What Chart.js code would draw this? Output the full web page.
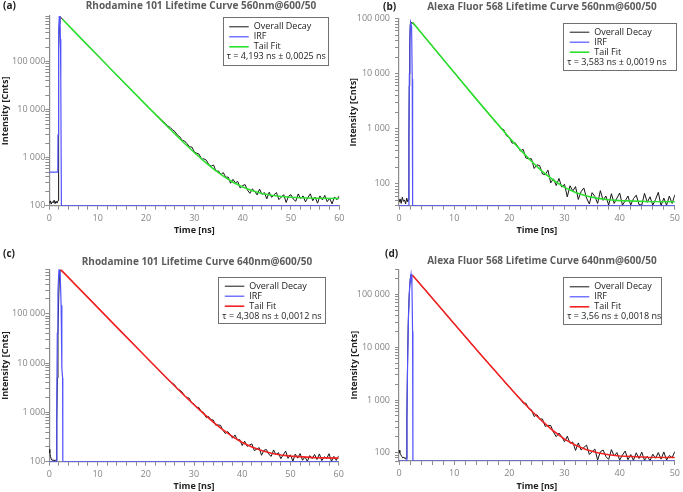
<!DOCTYPE html>
<html>
<head>
<meta charset="utf-8">
<script src="https://cdn.jsdelivr.net/npm/chart.js@4.4.1/dist/chart.umd.min.js"></script>
<style>
body { margin: 0; background: #fff; width: 683px; height: 492px; overflow: hidden; position: relative; font-family: 'Open Sans', sans-serif; }
canvas { position: absolute; }
.tag { position: absolute; font-weight: bold; font-size: 10px; color: #222; line-height: 12px; transform: translateY(-50%); }
.ttl { position: absolute; font-weight: bold; font-size: 10px; color: #5c5c5c; white-space: nowrap; line-height: 12px; transform: translate(-50%, -50%); }
</style>
</head>
<body>
<canvas id="cA" width="348" height="240" style="left:0;top:0"></canvas>
<canvas id="cB" width="343" height="240" style="left:340px;top:0"></canvas>
<canvas id="cC" width="348" height="252" style="left:0;top:240px"></canvas>
<canvas id="cD" width="343" height="252" style="left:340px;top:240px"></canvas>
<div class="tag" style="left:3px;top:5px">(a)</div>
<div class="tag" style="left:383px;top:6px">(b)</div>
<div class="tag" style="left:3px;top:253px">(c)</div>
<div class="tag" style="left:385px;top:253px">(d)</div>
<div class="ttl" style="left:201px;top:5px">Rhodamine 101 Lifetime Curve 560nm@600/50</div>
<div class="ttl" style="left:542px;top:5.5px">Alexa Fluor 568 Lifetime Curve 560nm@600/50</div>
<div class="ttl" style="left:197px;top:261px">Rhodamine 101 Lifetime Curve 640nm@600/50</div>
<div class="ttl" style="left:542px;top:260px">Alexa Fluor 568 Lifetime Curve 640nm@600/50</div>
<script>
// ---- data (time in ns, counts) ----
// tails are sampled every 0.5 ns starting at 3 ns
const tailStart = 3.0, tailStep = 0.5;

// (a) Rhodamine 101, 560nm
const decayHeadA = [[0,112],[0.2,126],[0.4,108],[0.6,121],[0.8,115],[1.0,130],[1.2,110],[1.4,124],[1.6,113],[1.8,128],
  [1.86,2000],[1.92,30000],[2.0,180000],[2.1,620000],[2.2,880000],[2.4,840000],[2.7,770000]];
const decayTailA = [722000,640000,568000,504000,447000,397000,352000,312500,277500,246000,
  218500,194000,172000,152800,135600,120400,106800,94900,84200,74700,
  66300,58900,52300,46400,41200,36600,32500,28850,25600,22750,
  20200,17950,15950,14200,12650,11250,10050,8950,8060,7150,
  6450,5780,5170,4620,4290,3790,3506,2950,2729,2306,
  2229,1964,1693,1669,1330,1244,1185,933,947,888,
  718,670,702,519,531,445,490,391,396,294,
  353,302,319,234,262,276,212,181,224,200,
  168,222,172,188,139,191,150,168,188,134,
  151,170,117,158,170,136,124,176,141,160,
  120,148,177,127,151,113,160,132,164,121,
  143,109,152,133,161];
const irfA = [[0,500],[1.76,500],[1.8,3000],[1.88,60000],[1.96,400000],[2.06,900000],[2.2,860000],[2.3,300000],[2.38,40000],[2.5,100],[60,100]];
const fitA = [[2.77,760000],[5,446500],[10,135400],[15,41100],[20,12610],[25,3923],[28,1982],[30,1283],[32,849],[34,580],
  [36,413],[38,309],[40,245],[42,205],[44,180],[46,165],[48,155.5],[50,149.6],[52,146],[55,142.9],[60,140.9]];

// (b) Alexa Fluor 568, 560nm
const decayHeadB = [[0,46],[0.2,53],[0.4,44],[0.6,57],[0.8,48],[1.0,51],[1.2,43],[1.4,55],[1.6,47],[1.74,52],
  [1.79,600],[1.86,6000],[1.94,35000],[2.05,80000],[2.15,86000],[2.4,83000],[2.7,79000]];
const decayTailB = [73800,64300,55700,48600,42300,36650,31950,27800,24100,21050,
  18300,15850,13870,12040,10480,9150,7930,6930,6010,5260,
  4580,3970,3480,3010,2650,2280,2020,1735,1545,1320,
  1209,1008,962,739,697,547,565,483,394,423,
  294,285,285,190,221,214,151,146,177,104,
  123,93,125,87,98,58,92,74,89,52,
  72,84,55,43,69,59,44,75,50,60,
  41,66,44,55,68,41,49,60,41,54,
  62,42,41,67,46,58,41,52,70,40,
  55,41,60,44,63];
const irfB = [[0,40],[1.76,40],[1.8,800],[1.88,10000],[1.98,50000],[2.1,86000],[2.28,72000],[2.4,8000],[2.47,40],[50,40]];
const fitB = [[2.45,86000],[5,42250],[10,10500],[15,2633],[20,687],[22,413],[24,257],[26,167],[28,116],[30,86],
  [32,69.5],[34,60],[36,54.4],[38,51.2],[40,49.4],[45,47.6],[50,47.1]];

// (c) Rhodamine 101, 640nm
const decayHeadC = [[0,178],[0.1,150],[0.25,128],[0.4,114],[0.6,106],[0.8,110],[1.0,103],[1.2,109],[1.4,104],[1.5,112],
  [1.58,600],[1.68,5000],[1.8,40000],[1.95,220000],[2.1,600000],[2.25,790000],[2.5,740000],[2.75,710000]];
const decayTailC = [684000,609000,542500,483000,430300,383200,341300,304000,270700,241100,
  214700,191200,170300,151600,135100,120300,107100,95420,85000,75700,
  67450,60060,53520,47670,42480,37830,33720,30030,26770,23840,
  21250,18930,16880,15040,13420,11950,10670,9500,8490,7560,
  6760,6020,5390,4800,4304,3928,3618,3012,2866,2617,
  2202,2003,1945,1552,1482,1268,1264,1047,996,791,
  830,712,701,549,556,547,435,373,409,357,
  300,349,276,280,213,261,205,217,230,168,
  179,193,135,170,177,142,128,173,138,153,
  115,138,164,117,138,103,143,118,146,107,
  125,102,133,115,140,111,144,105,126,116,
  145,102,128,106,132];
const irfC = [[0,100],[1.48,100],[1.56,2000],[1.66,40000],[1.8,300000],[2.0,790000],[2.25,700000],[2.45,150000],[2.6,8000],[2.76,5000],[2.8,100],[60,100]];
const fitC = [[2.43,780000],[5,430000],[10,135000],[15,42480],[20,13420],[25,4291],[28,2200],[30,1427],[32,941],[34,635],
  [36,443],[38,322],[40,246],[42,198],[44,168],[46,149],[48,137],[50,130],[55,121],[60,118.3]];

// (d) Alexa Fluor 568, 640nm
const decayHeadD = [[0,112],[0.15,100],[0.3,93],[0.5,85],[0.7,80],[0.9,83],[1.1,77],[1.25,81],[1.36,79],
  [1.42,400],[1.52,3000],[1.66,25000],[1.85,100000],[2.05,200000],[2.2,242000],[2.45,228000],[2.7,214000]];
const decayTailD = [199000,173000,150300,130700,113600,98700,85750,74550,64780,56300,
  48920,42540,36960,32150,27930,24300,21100,18370,15950,13900,
  12060,10520,9120,7970,6910,6040,5230,4590,3960,3490,
  3040,2630,2320,2000,1775,1530,1362,1170,1055,870,
  874,692,655,487,529,439,437,317,331,330,
  246,202,237,202,162,206,152,160,111,154,
  113,126,140,93,105,118,73,105,113,85,
  75,115,87,101,73,91,108,74,93,72,
  100,78,103,72,86,71,94,79,101,76,
  104,73,89,81,106];
const irfD = [[0,70],[1.36,70],[1.44,500],[1.56,5000],[1.72,40000],[1.95,160000],[2.18,242000],[2.35,150000],[2.46,20000],[2.52,70],[50,70]];
const fitD = [[2.45,232000],[5,113500],[10,27930],[15,6920],[20,1761],[22,1039],[24,627],[26,393],[28,259],[30,182],
  [32,139],[34,114],[36,100],[38,92],[40,87],[45,82.5],[50,81.4]];

// ---- helpers ----
const AXIS = '#8c8c8c', TICKTXT = '#858585', FONT = "'Open Sans', sans-serif";

const toPts = arr => arr.map(p => ({x: p[0], y: p[1]}));
function decayPts(head, tail) {
  const out = toPts(head);
  tail.forEach((v, i) => out.push({x: tailStart + i * tailStep, y: v}));
  return out;
}
function logTicks(min, max) {
  const t = [];
  for (let e = Math.floor(Math.log10(min)); e <= Math.ceil(Math.log10(max)); e++) {
    for (let m = 1; m <= 9; m++) {
      const v = Math.round(m * Math.pow(10, e));
      if (v >= min && v <= max) t.push(v);
    }
  }
  return t;
}
const isDecade = v => Math.abs(Math.log10(v) - Math.round(Math.log10(v))) < 1e-9;
const fmt = v => String(v).replace(/\B(?=(\d{3})+(?!\d))/g, ' ');

// framed legend inside the plot, with the lifetime line under the entries
const boxLegend = {
  id: 'boxLegend',
  afterDatasetsDraw(chart, args, o) {
    const ctx = chart.ctx, a = chart.chartArea;
    const x = a.right - o.right - o.width, y = a.top + o.top;
    const rows = [9.5, 19.5, 29.5, 39.5];
    ctx.save();
    ctx.fillStyle = '#fff';
    ctx.fillRect(x, y, o.width, o.height);
    ctx.strokeStyle = '#707070';
    ctx.lineWidth = 1;
    ctx.strokeRect(Math.round(x) + 0.5, Math.round(y) + 0.5, Math.round(o.width), Math.round(o.height));
    ctx.font = '9px ' + FONT;
    ctx.textBaseline = 'middle';
    chart.data.datasets.forEach((ds, i) => {
      ctx.strokeStyle = ds.borderColor;
      ctx.lineWidth = ds.borderWidth;
      ctx.beginPath();
      ctx.moveTo(x + 6.5, y + rows[i]);
      ctx.lineTo(x + 26, y + rows[i]);
      ctx.stroke();
      ctx.fillStyle = '#222';
      ctx.fillText(ds.label, x + 31, y + rows[i]);
    });
    ctx.fillText(o.note, x + 4, y + rows[3]);
    ctx.restore();
  }
};

function makePanel(id, p) {
  new Chart(document.getElementById(id), {
    type: 'line',
    data: {
      datasets: [
        {label: 'Overall Decay', data: decayPts(p.head, p.tail), borderColor: '#151515', borderWidth: 1, order: 3},
        {label: 'IRF', data: toPts(p.irf), borderColor: '#5252ff', borderWidth: 1.2, order: 2},
        {label: 'Tail Fit', data: toPts(p.fit), borderColor: p.fitColor, borderWidth: 1.6, order: 1}
      ]
    },
    options: {
      responsive: false,
      animation: false,
      events: [],
      elements: {point: {radius: 0}, line: {tension: 0}},
      layout: {padding: {left: 0, top: p.padTop, right: p.padRight, bottom: 0}},
      scales: {
        x: {
          type: 'linear', min: 0, max: p.xMax,
          afterBuildTicks: s => { const t = []; for (let v = 0; v <= p.xMax; v += 2) t.push({value: v}); s.ticks = t; },
          afterFit: s => { s.height = p.xHeight; },
          ticks: {autoSkip: false, maxRotation: 0, padding: 3, color: TICKTXT, font: {family: FONT, size: 9},
            callback: v => v % 10 === 0 ? String(v) : ''},
          grid: {drawOnChartArea: false, drawTicks: true, tickLength: 4, color: AXIS, tickColor: AXIS},
          border: {color: AXIS, width: 1.2},
          title: {display: true, text: 'Time [ns]', color: '#222', font: {family: FONT, size: 9, weight: 'bold'},
            padding: {top: 0, bottom: p.xTitlePad}}
        },
        y: {
          type: 'logarithmic', min: p.yMin, max: p.yMax,
          afterBuildTicks: s => { s.ticks = logTicks(p.yMin, p.yMax).map(v => ({value: v})); },
          afterFit: s => { s.width = p.yWidth; },
          ticks: {autoSkip: false, padding: p.yTickPad, color: TICKTXT, font: {family: FONT, size: 9},
            callback: v => isDecade(v) ? fmt(v) : ''},
          grid: {drawOnChartArea: false, drawTicks: true, tickLength: 4, color: AXIS, tickColor: AXIS},
          border: {color: AXIS, width: 1.2},
          title: {display: true, text: 'Intensity [Cnts]', color: '#222',
            font: {family: FONT, size: 9, weight: 'bold', lineHeight: 1}, padding: {top: p.yTitlePad, bottom: 0}}
        }
      },
      plugins: {
        legend: {display: false},
        tooltip: {enabled: false},
        boxLegend: p.legend
      }
    },
    plugins: [boxLegend]
  });
}

makePanel('cA', {head: decayHeadA, tail: decayTailA, irf: irfA, fit: fitA, fitColor: '#2ee02e',
  xMax: 60, yMin: 100, yMax: 900000, padTop: 16, padRight: 8.7, xHeight: 34.3, xTitlePad: 4.6,
  yWidth: 49.3, yTickPad: 0, yTitlePad: 0.5,
  legend: {right: 12, top: 1.3, width: 104.6, height: 47.7, note: 'τ = 4,193 ns ± 0,0025 ns'}});

makePanel('cB', {head: decayHeadB, tail: decayTailB, irf: irfB, fit: fitB, fitColor: '#2ee02e',
  xMax: 50, yMin: 40, yMax: 100000, padTop: 18.7, padRight: 4.7, xHeight: 34.3, xTitlePad: 4.6,
  yWidth: 59, yTickPad: 5, yTitlePad: 8.8,
  legend: {right: -1, top: 4, width: 112.6, height: 46.6, note: 'τ = 3,583 ns ± 0,0019 ns'}});

makePanel('cC', {head: decayHeadC, tail: decayTailC, irf: irfC, fit: fitC, fitColor: '#f22222',
  xMax: 60, yMin: 100, yMax: 800000, padTop: 29.3, padRight: 9.3, xHeight: 30.3, xTitlePad: 0,
  yWidth: 49.3, yTickPad: 0, yTitlePad: 0.5,
  legend: {right: 13.7, top: 7.4, width: 106.7, height: 46, note: 'τ = 4,308 ns ± 0,0012 ns'}});

makePanel('cD', {head: decayHeadD, tail: decayTailD, irf: irfD, fit: fitD, fitColor: '#f22222',
  xMax: 50, yMin: 70, yMax: 300000, padTop: 29.3, padRight: 4.7, xHeight: 31, xTitlePad: 0,
  yWidth: 59, yTickPad: 5, yTitlePad: 9.5,
  legend: {right: 13.3, top: 8, width: 98.3, height: 46.7, note: 'τ = 3,56 ns ± 0,0018 ns'}});
</script>
</body>
</html>
